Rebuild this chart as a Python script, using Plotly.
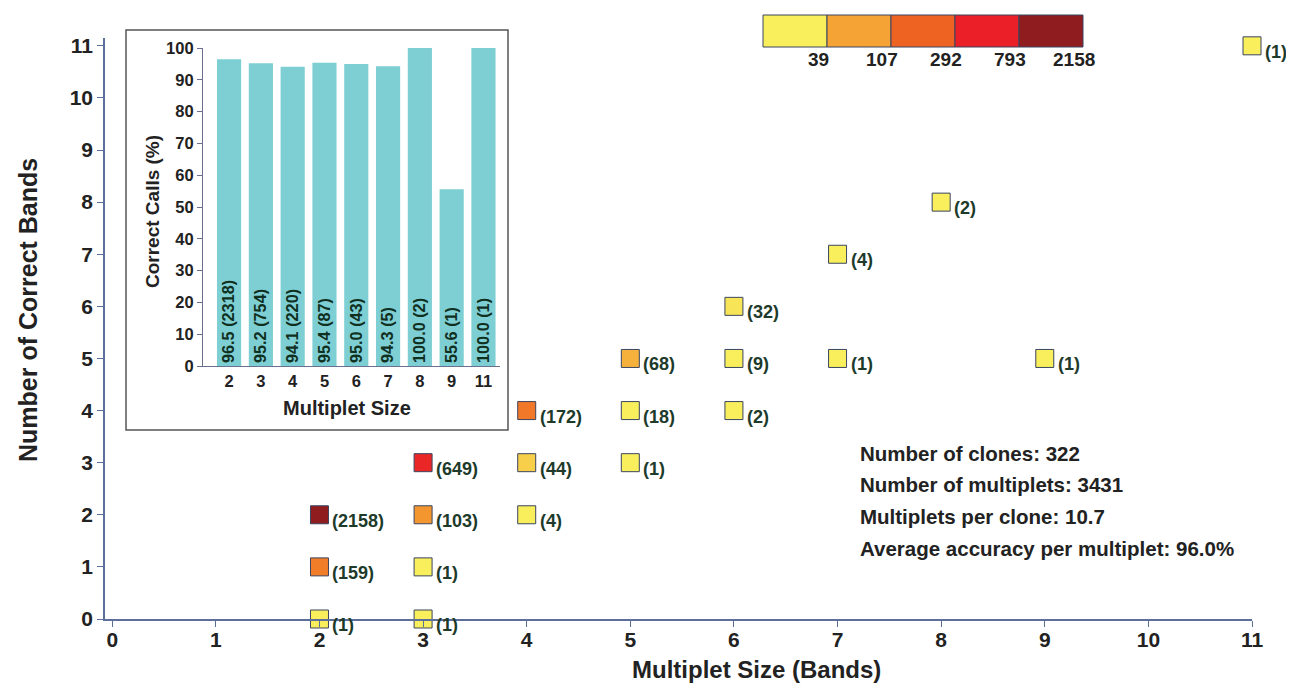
import math
import plotly.graph_objects as go

# ---------------- data ----------------
# main scatter: multiplet size vs number of correct bands, with counts
multiplet_size = [2, 3, 2, 3, 2, 3, 4, 3, 4, 5, 4, 5, 6, 5, 6, 7, 9, 6, 7, 8, 11]
correct_bands  = [0, 0, 1, 1, 2, 2, 2, 3, 3, 3, 4, 4, 4, 5, 5, 5, 5, 6, 7, 8, 11]
counts         = [1, 1, 159, 1, 2158, 103, 4, 649, 44, 1, 172, 18, 2, 68, 9, 1, 1, 32, 4, 2, 1]

# inset bar chart
inset_sizes   = ["2", "3", "4", "5", "6", "7", "8", "9", "11"]
inset_pct     = [96.5, 95.2, 94.1, 95.4, 95.0, 94.3, 100.0, 55.6, 100.0]
inset_n       = [2318, 754, 220, 87, 43, 5, 2, 1, 1]

# colour key
key_values = [39, 107, 292, 793, 2158]
key_colors = ["#f9ee5c", "#f4a334", "#ef6322", "#ea1f27", "#8f1d1f"]

# summary statistics text
stats_lines = [
    "Number of clones: 322",
    "Number of multiplets: 3431",
    "Multiplets per clone: 10.7",
    "Average accuracy per multiplet: 96.0%",
]

# ---------------- layout helpers (page pixel coordinates) ----------------
PAGE_W, PAGE_H = 1294, 687
OFF = 8                                 # default body margin of the html page
W, H = PAGE_W - OFF, PAGE_H - OFF
PL, PR, PT, PB = 105, 1252, 38, 619     # plot area in page pixels


def px2x(px):
    return (px - PL) / (PR - PL)


def px2y(py):
    return (PB - py) / (PB - PT)


FONT = "Arial, Liberation Sans, sans-serif"
AXC = "#5d6f98"
TXT = "#222222"
LBL = "#1d3a2a"

fig = go.Figure()

# colour scale in log space
cmin = math.log(28)
cmax = math.log(max(key_values))
cscale = [[i / (len(key_colors) - 1), c] for i, c in enumerate(key_colors)]

fig.add_trace(go.Scatter(
    x=multiplet_size, y=correct_bands, mode="markers",
    marker=dict(symbol="square", size=18,
                color=[math.log(c) for c in counts],
                colorscale=cscale, cmin=cmin, cmax=cmax,
                line=dict(color="#3a4560", width=1)),
    cliponaxis=False, showlegend=False, hoverinfo="skip",
))

annotations = []
for x, y, n in zip(multiplet_size, correct_bands, counts):
    annotations.append(dict(
        x=x, y=y, xref="x", yref="y", text=f"({n})", showarrow=False,
        xanchor="left", yanchor="middle", xshift=11, yshift=-6,
        font=dict(family=FONT, size=18, color=LBL, weight="bold"),
    ))

# inset bars
fig.add_trace(go.Bar(
    x=inset_sizes, y=inset_pct, xaxis="x2", yaxis="y2",
    marker=dict(color="#7ecfd3", line=dict(width=0)),
    width=0.76,
    text=[f"{p:.1f} ({n})" for p, n in zip(inset_pct, inset_n)],
    textposition="inside", insidetextanchor="start", textangle=-90,
    textfont=dict(family=FONT, size=17, color="#10301f", weight="bold"),
    showlegend=False, hoverinfo="skip",
))

# inset box
shapes = [dict(type="rect", xref="paper", yref="paper",
               x0=px2x(126), x1=px2x(508), y0=px2y(430), y1=px2y(30),
               line=dict(color="#555555", width=1.5), fillcolor="white",
               layer="below")]

# colour key blocks
kx0, kw, ky0, ky1 = 763, 64, 15, 47
for i, (v, c) in enumerate(zip(key_values, key_colors)):
    shapes.append(dict(type="rect", xref="paper", yref="paper",
                       x0=px2x(kx0 + i * kw), x1=px2x(kx0 + (i + 1) * kw),
                       y0=px2y(ky1), y1=px2y(ky0),
                       line=dict(color="#3a4560", width=1), fillcolor=c))
    annotations.append(dict(
        x=px2x(kx0 + (i + 1) * kw), y=px2y(59), xref="paper", yref="paper",
        text=str(v), showarrow=False, xanchor="center", yanchor="middle",
        xshift=-9, font=dict(family=FONT, size=19, color=TXT, weight="bold"),
    ))

# stats text
for i, line in enumerate(stats_lines):
    annotations.append(dict(
        x=px2x(858), y=px2y(453 + i * 31.8), xref="paper", yref="paper",
        text=line, showarrow=False, xanchor="left", yanchor="middle",
        font=dict(family=FONT, size=20.5, color=TXT, weight="bold"),
    ))

# axis titles
annotations.append(dict(
    x=px2x(756), y=px2y(669), xref="paper", yref="paper",
    text="Multiplet Size (Bands)", showarrow=False,
    xanchor="center", yanchor="middle",
    font=dict(family=FONT, size=24, color=TXT, weight="bold")))
annotations.append(dict(
    x=px2x(28), y=px2y(310), xref="paper", yref="paper",
    text="Number of Correct Bands", showarrow=False, textangle=-90,
    xanchor="center", yanchor="middle",
    font=dict(family=FONT, size=25, color=TXT, weight="bold")))
annotations.append(dict(
    x=px2x(152), y=px2y(212), xref="paper", yref="paper",
    text="Correct Calls (%)", showarrow=False, textangle=-90,
    xanchor="center", yanchor="middle",
    font=dict(family=FONT, size=19, color=TXT, weight="bold")))
annotations.append(dict(
    x=px2x(347), y=px2y(408), xref="paper", yref="paper",
    text="Multiplet Size", showarrow=False,
    xanchor="center", yanchor="middle",
    font=dict(family=FONT, size=20, color=TXT, weight="bold")))

tickfont = dict(family=FONT, size=21, color=TXT, weight="bold")
itickfont = dict(family=FONT, size=16.5, color=TXT, weight="bold")

fig.update_layout(
    width=W, height=H,
    margin=dict(l=PL - OFF, r=PAGE_W - PR, t=PT - OFF, b=PAGE_H - PB, pad=0),
    plot_bgcolor="white", paper_bgcolor="white",
    xaxis=dict(range=[-0.07, 11], tickvals=list(range(12)),
               showline=True, linecolor=AXC, linewidth=1.5,
               ticks="outside", ticklen=6, tickcolor=AXC, tickwidth=1.2,
               ticklabelstandoff=-5,
               showgrid=False, zeroline=False, tickfont=tickfont,
               automargin=False),
    yaxis=dict(range=[0, 11.15], tickvals=list(range(12)),
               showline=True, linecolor=AXC, linewidth=1.5,
               ticks="outside", ticklen=6, tickcolor=AXC, tickwidth=1.2,
               showgrid=False, zeroline=False, tickfont=tickfont,
               automargin=False),
    xaxis2=dict(domain=[px2x(203), px2x(500)], anchor="y2", type="category",
                range=[-0.82, 8.52], showline=True, linecolor="#6a7090",
                linewidth=1.2, ticks="", showgrid=False, zeroline=False,
                tickfont=itickfont, automargin=False),
    yaxis2=dict(domain=[px2y(366), px2y(48)], anchor="x2",
                range=[0, 100], tickvals=list(range(0, 101, 10)),
                showline=True, linecolor="#6a7090", linewidth=1.2,
                ticks="outside", ticklen=5, tickcolor="#6a7090",
                showgrid=False, zeroline=False, tickfont=itickfont,
                automargin=False),
    shapes=shapes, annotations=annotations,
)

fig.write_html("out.html")
